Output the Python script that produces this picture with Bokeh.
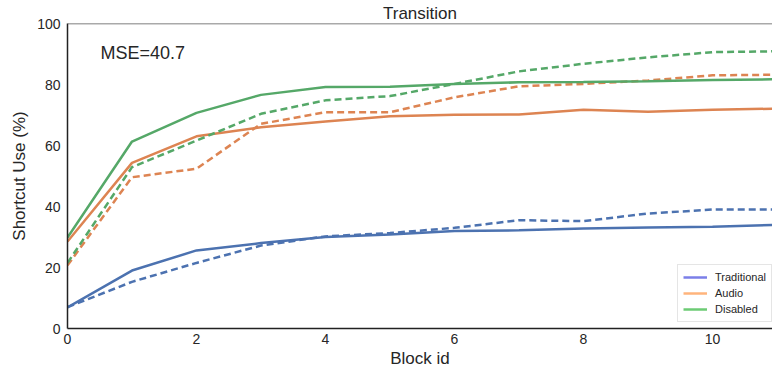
from bokeh.plotting import figure
from bokeh.models import Range1d, Label, Legend, LegendItem, Span, FixedTicker
from bokeh.embed import file_html
from bokeh.resources import INLINE

blocks = list(range(12))
trad_solid = [6.9, 19.0, 25.6, 28.0, 30.0, 30.8, 32.0, 32.2, 32.8, 33.1, 33.4, 34.0]
trad_dash = [7.0, 15.3, 21.5, 27.2, 30.2, 31.3, 33.0, 35.5, 35.2, 37.7, 39.0, 39.0]
audio_solid = [28.5, 54.3, 63.0, 66.0, 67.9, 69.6, 70.1, 70.2, 71.7, 71.1, 71.7, 72.1]
audio_dash = [20.7, 49.6, 52.4, 67.1, 70.9, 70.9, 75.8, 79.4, 80.2, 81.3, 83.0, 83.2]
dis_solid = [29.8, 61.3, 70.7, 76.6, 79.2, 79.3, 80.2, 80.7, 80.8, 81.1, 81.5, 81.7]
dis_dash = [21.5, 52.9, 61.6, 70.4, 74.8, 76.2, 80.2, 84.3, 86.8, 88.9, 90.6, 90.9]
labels = ["Traditional", "Audio", "Disabled"]
series_colors = ["#4C72B0", "#DD8452", "#55A868"]
legend_colors = ["#7B7FE8", "#FFB47C", "#6CCB74"]
x_ticks = [0, 2, 4, 6, 8, 10]
y_ticks = [0, 20, 40, 60, 80, 100]

FONT = "Liberation Sans"
TXT = "#262626"

p = figure(width=772, height=373, output_backend="svg", toolbar_location=None,
           x_range=Range1d(0, 10.93), y_range=Range1d(0, 100),
           min_border_left=67, min_border_right=0, min_border_bottom=45, min_border_top=0,
           title="Transition")
p.title.text_font = FONT
p.title.text_font_size = "17px"
p.title.text_font_style = "normal"
p.title.text_color = TXT
p.title.align = "center"
p.title.offset = 0
p.title.standoff = 2

p.outline_line_color = None
p.xgrid.visible = False
p.ygrid.visible = False

for ax in (p.xaxis[0], p.yaxis[0]):
    ax.major_tick_out = 0
    ax.major_tick_in = 0
    ax.minor_tick_out = 0
    ax.minor_tick_in = 0
    ax.axis_line_color = "#222222"
    ax.axis_line_width = 1.5
    ax.major_label_text_font = FONT
    ax.major_label_text_font_size = "14px"
    ax.major_label_text_color = TXT
    ax.axis_label_text_font = FONT
    ax.axis_label_text_font_size = "17px"
    ax.axis_label_text_font_style = "normal"
    ax.axis_label_text_color = TXT

p.xaxis[0].ticker = FixedTicker(ticks=x_ticks)
p.yaxis[0].ticker = FixedTicker(ticks=y_ticks)
p.xaxis[0].axis_label = "Block id"
p.yaxis[0].axis_label = "Shortcut Use (%)"
p.xaxis[0].major_label_standoff = 5
p.yaxis[0].major_label_standoff = 7
p.xaxis[0].axis_label_standoff = 2
p.yaxis[0].axis_label_standoff = 5

p.add_layout(Span(location=100, dimension="width", line_color="#555555", line_width=1.5))

solids = [trad_solid, audio_solid, dis_solid]
dashes = [trad_dash, audio_dash, dis_dash]
for ys, yd, c in zip(solids, dashes, series_colors):
    p.line(blocks, ys, line_color=c, line_width=2.5)
    p.line(blocks, yd, line_color=c, line_width=2.5, line_dash="7 4")

items = []
for lab, c in zip(labels, legend_colors):
    r = p.line([-5, -4], [-5, -5], line_color=c, line_width=2.5)
    items.append(LegendItem(label=lab, renderers=[r]))

legend = Legend(items=items, location=(610, 6))
legend.label_text_font = FONT
legend.label_text_font_size = "11px"
legend.label_text_color = TXT
legend.glyph_width = 24
legend.glyph_height = 14
legend.label_height = 14
legend.spacing = 2
legend.padding = 5
legend.margin = 0
legend.label_standoff = 8
legend.border_line_color = "#cccccc"
legend.background_fill_alpha = 1.0
p.add_layout(legend)

p.add_layout(Label(x=0.51, y=90.2, text="MSE=40.7", text_font=FONT,
                   text_font_size="18px", text_color=TXT, text_baseline="alphabetic"))

open("out.html", "w").write(file_html(p, INLINE))
